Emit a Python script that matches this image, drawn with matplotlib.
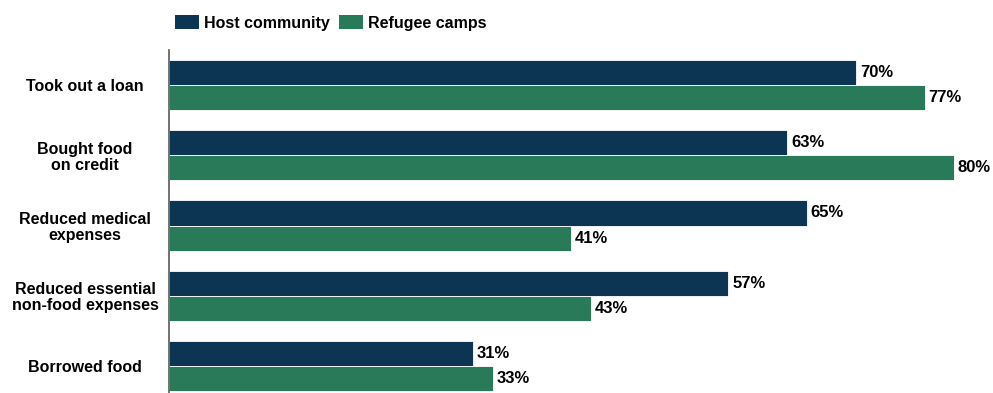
import matplotlib.pyplot as plt
import numpy as np
from matplotlib.patches import Patch

plt.rcParams['font.family'] = ['Liberation Sans', 'DejaVu Sans']

# Data
categories = ["Took out a loan", "Bought food\non credit", "Reduced medical\nexpenses",
              "Reduced essential\nnon-food expenses", "Borrowed food"]
host = [70, 63, 65, 57, 31]
refugee = [77, 80, 41, 43, 33]
series_names = ["Host community", "Refugee camps"]
colors = ["#0C3453", "#287A59"]

fig = plt.figure(figsize=(9.93, 3.93), dpi=100)
ax = fig.add_axes([169 / 993, 0, 1 - 169 / 993, 1 - 50 / 393])

y = np.arange(len(categories))
h = 25 / 70
ax.barh(y - h / 2, host, height=h, color=colors[0], edgecolor="white", linewidth=0.6)
ax.barh(y + h / 2, refugee, height=h, color=colors[1], edgecolor="white", linewidth=0.6)

for i in range(len(categories)):
    ax.text(host[i] + 0.4, y[i] - h / 2, f"{host[i]}%", va="center", ha="left",
            fontsize=12, fontweight="bold", color="black")
    ax.text(refugee[i] + 0.4, y[i] + h / 2, f"{refugee[i]}%", va="center", ha="left",
            fontsize=12, fontweight="bold", color="black")

ax.set_xlim(0, (993 - 169) / 9.8125)
ax.set_ylim(len(categories) - 1 + 27 / 70, -0.5)

ax.set_yticks(y)
ax.set_yticklabels(categories, ha="center", fontsize=11.5, fontweight="bold",
                   linespacing=1.1)
ax.tick_params(axis="y", length=0, pad=60.5)
ax.set_xticks([])

for s in ["top", "right", "bottom"]:
    ax.spines[s].set_visible(False)
ax.spines["left"].set_color("#5a5a5a")
ax.spines["left"].set_linewidth(1.2)

handles = [Patch(facecolor=c, edgecolor="none") for c in colors]
fig.legend(handles, series_names, loc="upper left", bbox_to_anchor=(172 / 993, 1 - 12 / 393),
           ncol=2, frameon=False, prop={"weight": "bold", "size": 11.5},
           handlelength=1.5, handleheight=1.0, handletextpad=0.3, columnspacing=0.6,
           borderaxespad=0, borderpad=0.2)

fig.savefig("out.png", dpi=100)
